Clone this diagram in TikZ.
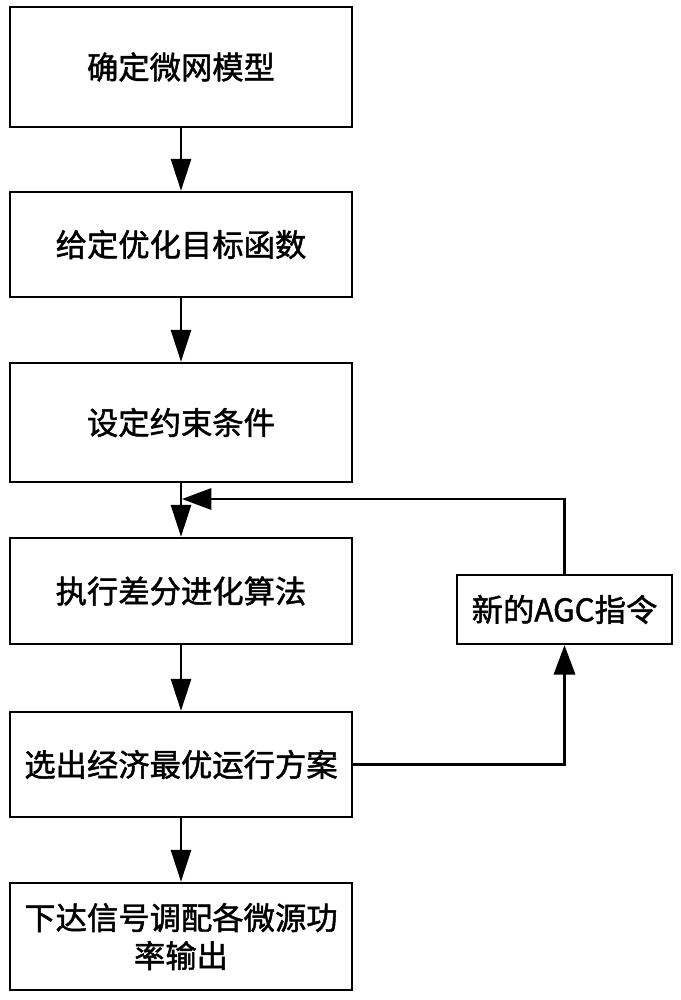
\documentclass[tikz,border=0pt]{standalone}
\usepackage{fontspec}
\setmainfont{Noto Sans CJK SC}[FakeBold=1.5,AutoFakeBold=1.5]
\usetikzlibrary{arrows.meta}
\begin{document}
\begin{tikzpicture}[x=0.75pt,y=-0.75pt,
  box/.style={draw=black,line width=1.8pt,fill=white,inner sep=0pt,
    minimum width=256.5pt,align=center,
    font=\fontsize{23.5}{28.5}\selectfont\bfseries},
  flow/.style={line width=2.2pt,-{Triangle[length=24pt,width=15pt]}},
  back/.style={line width=1.6pt,-{Triangle[length=22pt,width=16pt]}}]
\useasboundingbox (0,0) rectangle (681,1000);
\node[box,minimum height=90pt] (b1) at (181,67) {确定微网模型};
\node[box,minimum height=78.75pt] (b2) at (181,244.5) {给定优化目标函数};
\node[box,minimum height=89.25pt] (b3) at (181,422.5) {设定约束条件};
\node[box,minimum height=79.5pt] (b4) at (181,591) {执行差分进化算法};
\node[box,minimum height=78.75pt] (b5) at (181,764.5) {选出经济最优运行方案};
\node[box,minimum height=80.25pt] (b6) at (181,936.5) {下达信号调配各微源功\\率输出};
\node[box,minimum width=161.25pt,minimum height=51.75pt] (r) at (564.5,609.5) {新的AGC指令};
\coordinate (j) at (182,499);
\draw[flow] (b1) -- (b2);
\draw[flow] (b2) -- (b3);
\draw[flow] (b3) -- (b4);
\draw[flow] (b4) -- (b5);
\draw[flow] (b5) -- (b6);
\draw[back] (r.north) |- (j);
\draw[back] (b5.east) -| (r.south);
\end{tikzpicture}
\end{document}
